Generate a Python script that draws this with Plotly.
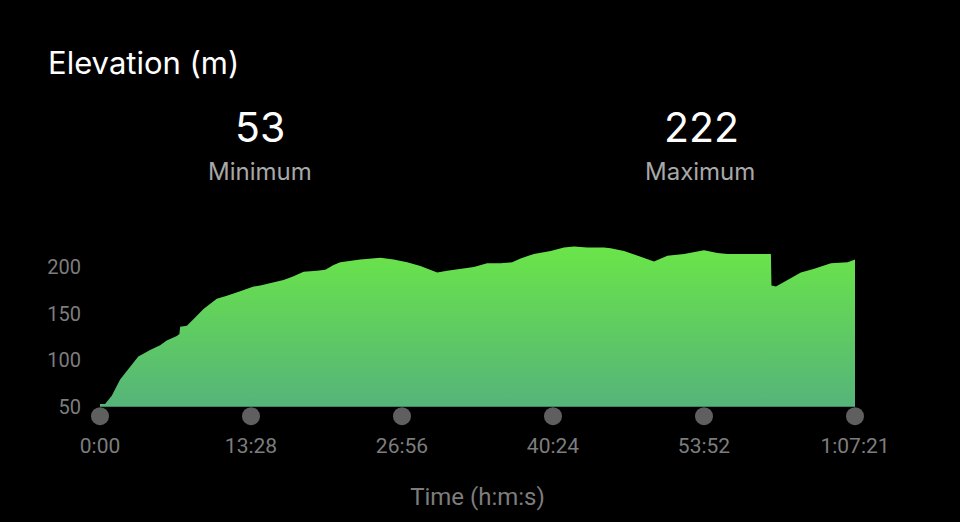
import plotly.graph_objects as go

# Time in seconds from start, elevation in metres
time_s = [0, 27, 63, 107, 134, 170, 205, 232, 268, 322, 357, 411, 425, 429, 465, 500,
          554, 625, 679, 750, 822, 858, 929, 982, 1036, 1090, 1161, 1206, 1250, 1286,
          1393, 1501, 1572, 1644, 1715, 1769, 1805, 1858, 1929, 2001, 2072, 2144, 2206,
          2251, 2322, 2412, 2483, 2537, 2608, 2697, 2733, 2805, 2894, 2965, 3037, 3126,
          3233, 3305, 3359, 3466, 3537, 3591, 3594, 3618, 3680, 3751, 3823, 3912, 4002, 4041]
elevation_m = [53, 53, 62, 79, 86, 95, 104, 107, 111, 116, 121, 126, 128, 136, 137, 144,
               155, 166, 169, 174, 179, 180, 183, 186, 190, 195, 196, 197, 202, 205,
               208, 210, 208, 205, 201, 197, 194, 196, 198, 200, 204, 204, 205,
               209, 214, 217, 221, 222, 221, 221, 220, 217, 211, 206, 212, 214,
               218, 215, 214, 214, 214, 214, 180, 179, 186, 194, 198, 204, 205, 208]

tick_seconds = [0, 808.2, 1616.4, 2424.6, 3232.8, 4041]
tick_labels = ["0:00", "13:28", "26:56", "40:24", "53:52", "1:07:21"]
y_ticks = [50, 100, 150, 200]
baseline = 50
min_elev = 53
max_elev = 222

fig = go.Figure()

# baseline for the area
fig.add_trace(go.Scatter(x=[time_s[0], time_s[-1]], y=[baseline, baseline], mode="lines",
                         line=dict(width=0, color="rgba(0,0,0,0)"), hoverinfo="skip",
                         showlegend=False))
fig.add_trace(go.Scatter(
    x=time_s, y=elevation_m, mode="lines", line=dict(width=0, color="#68e04a"),
    fill="tonexty",
    fillgradient=dict(type="vertical", start=baseline, stop=max_elev,
                      colorscale=[[0, "#55b47a"], [1, "#6ae548"]]),
    showlegend=False))

# tick dots
fig.add_trace(go.Scatter(x=tick_seconds, y=[40] * len(tick_seconds), mode="markers",
                         marker=dict(size=18, color="#5f5f5f"), cliponaxis=False,
                         hoverinfo="skip", showlegend=False))

fig.update_layout(
    width=960, height=522,
    paper_bgcolor="black", plot_bgcolor="black",
    margin=dict(l=100, r=105, t=239, b=104),
    font=dict(family="Inter, Roboto, sans-serif", color="#7d7d7d"),
    xaxis=dict(range=[0, 4041], tickvals=tick_seconds, ticktext=tick_labels,
               showgrid=False, zeroline=False, showline=False,
               ticks="outside", ticklen=9, tickcolor="rgba(0,0,0,0)",
               tickfont=dict(size=21, color="#7d7d7d", family="Roboto, sans-serif"),
               title=dict(text="Time (h:m:s)", font=dict(size=24, color="#7d7d7d",
                                                         family="Roboto, sans-serif"),
                          standoff=30)),
    yaxis=dict(range=[38, 230], tickvals=y_ticks, showgrid=False, zeroline=False,
               showline=False, ticks="outside", ticklen=14, tickcolor="rgba(0,0,0,0)",
               tickfont=dict(size=20, color="#7d7d7d", family="Roboto, sans-serif")),
)

anns = [
    dict(text="Elevation (m)", px=46, py=62, size=31, color="white", anchor="left"),
    dict(text=str(min_elev), px=260, py=127, size=41, color="white", anchor="center"),
    dict(text="Minimum", px=260, py=171, size=24, color="#a8a8a8", anchor="center"),
    dict(text=str(max_elev), px=701, py=127, size=41, color="white", anchor="center"),
    dict(text="Maximum", px=700, py=171, size=24, color="#a8a8a8", anchor="center"),
]
plot_left, plot_w = 100, 960 - 100 - 105
plot_top, plot_h = 239, 522 - 239 - 104
for a in anns:
    fig.add_annotation(text=a["text"], xref="paper", yref="paper",
                       x=(a["px"] - plot_left) / plot_w,
                       y=1 - (a["py"] - plot_top) / plot_h,
                       xanchor=a["anchor"], yanchor="middle", showarrow=False,
                       font=dict(size=a["size"], color=a["color"],
                                 family="Inter, Roboto, sans-serif"))

fig.write_html("out.html", config={"displayModeBar": False},
               post_script="document.body.style.margin='0';document.body.style.background='black';")
